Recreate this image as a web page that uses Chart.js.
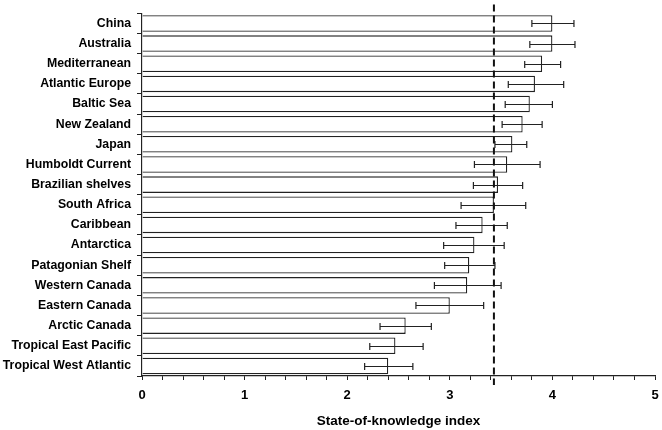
<!DOCTYPE html>
<html>
<head>
<meta charset="utf-8">
<script src="https://cdn.jsdelivr.net/npm/chart.js@4"></script>
<style>
html,body{margin:0;padding:0;background:#fff;}
#wrap{width:662px;height:430px;position:relative;}
</style>
</head>
<body>
<div id="wrap"><canvas id="c" width="662" height="430"></canvas></div>
<script>
const categories = ["China","Australia","Mediterranean","Atlantic Europe","Baltic Sea","New Zealand","Japan","Humboldt Current","Brazilian shelves","South Africa","Caribbean","Antarctica","Patagonian Shelf","Western Canada","Eastern Canada","Arctic Canada","Tropical East Pacific","Tropical West Atlantic"];
const values   = [4.00,4.00,3.90,3.83,3.78,3.71,3.61,3.56,3.47,3.43,3.32,3.24,3.19,3.17,3.00,2.57,2.47,2.40];
const errLow   = [3.80,3.78,3.73,3.57,3.54,3.51,3.44,3.24,3.23,3.11,3.06,2.94,2.95,2.85,2.67,2.32,2.22,2.17];
const errHigh  = [4.21,4.22,4.08,4.11,4.00,3.90,3.75,3.88,3.71,3.74,3.56,3.53,3.44,3.50,3.33,2.82,2.74,2.64];
const meanLine = 3.43;
const xTitle = "State-of-knowledge index";

const FONT = "'Liberation Sans', Arial, sans-serif";

const errorBars = {
  id: 'errorBars',
  afterDatasetsDraw(chart) {
    const ctx = chart.ctx, xs = chart.scales.x, ys = chart.scales.y;
    ctx.save();
    ctx.strokeStyle = '#222';
    ctx.lineWidth = 1.2;
    categories.forEach((c, i) => {
      const y = Math.round(ys.getPixelForValue(i)) + 0.5;
      const x1 = xs.getPixelForValue(errLow[i]);
      const x2 = xs.getPixelForValue(errHigh[i]);
      ctx.beginPath();
      ctx.moveTo(x1, y); ctx.lineTo(x2, y);
      ctx.moveTo(x1, y - 3.5); ctx.lineTo(x1, y + 3.5);
      ctx.moveTo(x2, y - 3.5); ctx.lineTo(x2, y + 3.5);
      ctx.stroke();
    });
    // dashed mean line
    const xm = xs.getPixelForValue(meanLine);
    ctx.strokeStyle = '#111';
    ctx.lineWidth = 2;
    ctx.setLineDash([7, 4]);
    ctx.beginPath();
    ctx.moveTo(xm, chart.chartArea.top - 9);
    ctx.lineTo(xm, chart.chartArea.bottom + 9);
    ctx.stroke();
    ctx.restore();
  }
};

new Chart(document.getElementById('c'), {
  type: 'bar',
  data: {
    labels: categories,
    datasets: [{
      data: values,
      backgroundColor: '#ffffff',
      borderColor: '#222',
      borderWidth: 1.3,
      barPercentage: 0.82,
      categoryPercentage: 1.0
    }]
  },
  options: {
    indexAxis: 'y',
    responsive: false,
    animation: false,
    layout: { padding: { top: 11.6, right: 7, left: 0, bottom: 0 } },
    plugins: { legend: { display: false }, tooltip: { enabled: false } },
    scales: {
      x: {
        min: 0, max: 5,
        afterFit(s) { s.height = 54; s.paddingLeft = 0; s.paddingRight = 0; },
        afterBuildTicks(s) {
          const t = [];
          for (let k = 0; k <= 25; k++) t.push({ value: k / 5 });
          s.ticks = t;
        },
        ticks: {
          autoSkip: false,
          maxRotation: 0,
          color: '#000',
          font: { family: FONT, size: 13, weight: 'bold' },
          padding: 8,
          callback(v) {
            return Math.abs(v - Math.round(v)) < 1e-6 ? String(Math.round(v)) : '';
          }
        },
        grid: { drawOnChartArea: false, tickLength: 4, color: '#222', lineWidth: 1 },
        border: { display: true, color: '#222', width: 1.2 },
        title: {
          display: true, text: xTitle, color: '#000',
          font: { family: FONT, size: 13.5, weight: 'bold' },
          padding: { top: 4, bottom: 1 }
        }
      },
      y: {
        afterFit(s) { s.width = 142; },
        ticks: {
          color: '#000',
          font: { family: FONT, size: 12.3, weight: 'bold' },
          padding: 6,
          autoSkip: false
        },
        grid: { drawOnChartArea: false, tickLength: 5, color: '#222', offset: true },
        border: { display: true, color: '#222', width: 1.2 }
      }
    }
  },
  plugins: [errorBars]
});
</script>
</body>
</html>
